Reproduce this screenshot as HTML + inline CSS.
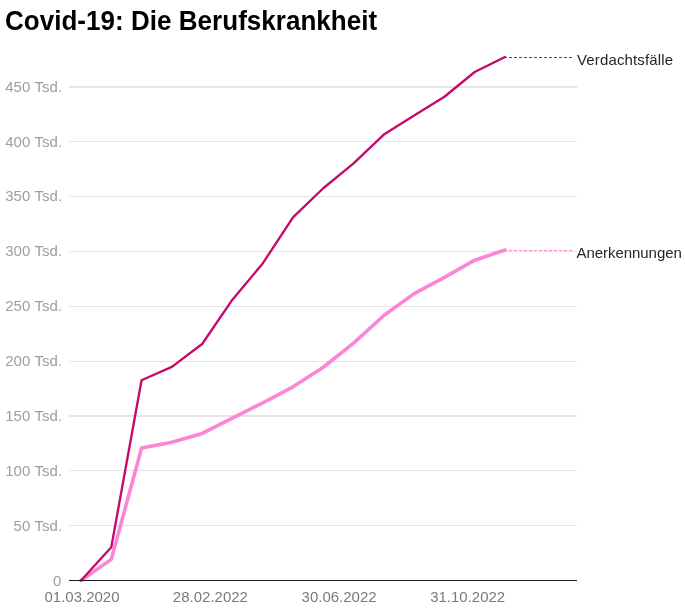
<!DOCTYPE html>
<html lang="de"><head><meta charset="utf-8"><title>Covid-19: Die Berufskrankheit</title>
<style>
html,body{margin:0;padding:0;background:#fff;}
body{width:685px;height:612px;position:relative;overflow:hidden;font-family:"Liberation Sans",sans-serif;}
h1{position:absolute;left:5px;top:5px;margin:0;font-size:26px;line-height:32px;font-weight:bold;color:#000;white-space:nowrap;letter-spacing:0.03px;transform:scaleY(1.06);transform-origin:0 25px;}
svg{position:absolute;left:0;top:0;}
.yl{position:absolute;left:0;width:62.2px;text-align:right;letter-spacing:0.07px;font-size:15px;line-height:20px;color:#9e9e9e;white-space:nowrap;}
.xl{position:absolute;top:587.1px;width:100px;text-align:center;font-size:15px;line-height:20px;color:#7a7a7a;white-space:nowrap;}
.sl{position:absolute;left:577px;font-size:15px;line-height:20px;color:#262626;white-space:nowrap;}
</style></head><body>
<h1>Covid-19: Die Berufskrankheit</h1>
<svg width="685" height="612" viewBox="0 0 685 612">
<rect x="69" y="525" width="508" height="1" fill="#e5e5e5"/>
<rect x="69" y="470" width="508" height="1" fill="#e5e5e5"/>
<rect x="69" y="415" width="508" height="2" fill="#e5e5e5"/>
<rect x="69" y="361" width="508" height="1" fill="#e5e5e5"/>
<rect x="69" y="306" width="508" height="1" fill="#e5e5e5"/>
<rect x="69" y="251" width="508" height="1" fill="#e5e5e5"/>
<rect x="69" y="196" width="508" height="1" fill="#e5e5e5"/>
<rect x="69" y="141" width="508" height="1" fill="#e5e5e5"/>
<rect x="69" y="86" width="508" height="2" fill="#e5e5e5"/>
<path d="M81.00,580.45 L111.28,559.39 L141.57,447.96 L171.86,442.25 L202.14,433.48 L232.43,418.12 L262.71,402.77 L293.00,386.86 L323.28,367.23 L353.56,343.10 L383.85,315.46 L414.13,293.64 L444.42,277.40 L474.70,260.18 L504.99,249.98" fill="none" stroke="#fc85d5" stroke-width="3.6" stroke-linejoin="round" stroke-linecap="round"/>
<path d="M81.00,580.45 L111.28,547.22 L141.57,380.28 L171.86,366.90 L202.14,343.98 L232.43,299.67 L262.71,263.47 L293.00,217.41 L323.28,188.23 L353.56,163.45 L383.85,134.60 L414.13,115.41 L444.42,96.76 L474.70,71.97 L504.99,56.95" fill="none" stroke="#c5096d" stroke-width="2.35" stroke-linejoin="round" stroke-linecap="round"/>
<line x1="504" x2="572" y1="57.5" y2="57.5" stroke="#c5096d" stroke-width="1" stroke-dasharray="3,2"/>
<line x1="504" x2="572" y1="250.5" y2="250.5" stroke="#fc85d5" stroke-width="1" stroke-dasharray="3,2"/>
<rect x="69" y="580" width="508" height="1" fill="#1c1c1c"/>
</svg>
<div class="yl" style="top:571.25px;left:-0.9px">0</div>
<div class="yl" style="top:515.51px">50 Tsd.</div>
<div class="yl" style="top:460.67px">100 Tsd.</div>
<div class="yl" style="top:405.83px">150 Tsd.</div>
<div class="yl" style="top:350.99px">200 Tsd.</div>
<div class="yl" style="top:296.15px">250 Tsd.</div>
<div class="yl" style="top:241.31px">300 Tsd.</div>
<div class="yl" style="top:186.47px">350 Tsd.</div>
<div class="yl" style="top:131.63px">400 Tsd.</div>
<div class="yl" style="top:76.79px">450 Tsd.</div>
<div class="xl" style="left:32px">01.03.2020</div>
<div class="xl" style="left:160.4px">28.02.2022</div>
<div class="xl" style="left:289.1px">30.06.2022</div>
<div class="xl" style="left:417.7px">31.10.2022</div>

<div class="sl" style="top:49.7px;letter-spacing:0.14px">Verdachtsfälle</div>
<div class="sl" style="top:242.7px;left:576.5px;letter-spacing:-0.05px">Anerkennungen</div>
</body></html>
